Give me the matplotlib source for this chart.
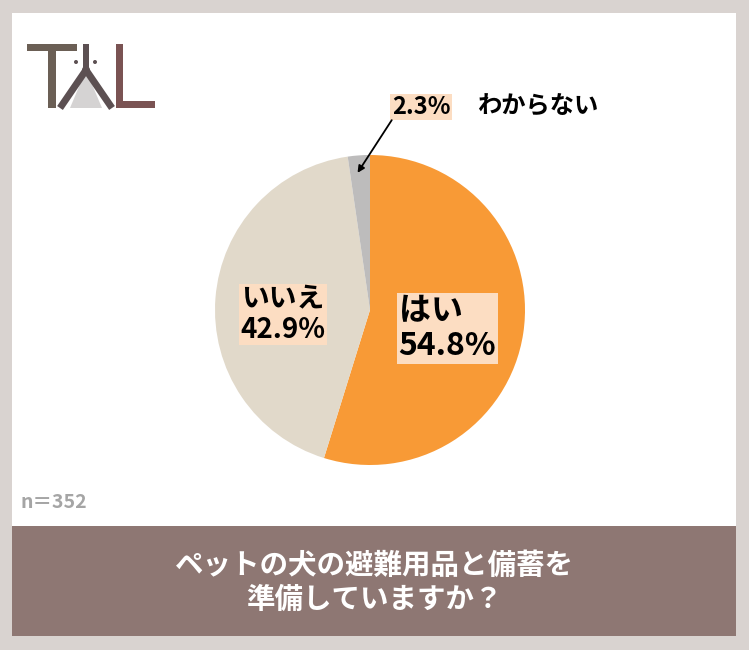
import matplotlib.pyplot as plt
from matplotlib.patches import Rectangle, Polygon, Circle

plt.rcParams['font.family'] = ['Noto Sans CJK JP', 'DejaVu Sans']

# data
answers = ["はい", "いいえ", "わからない"]
shares = [54.8, 42.9, 2.3]
slice_colors = ["#F89A36", "#E1D9CA", "#BDBCBC"]
sample_note = "n＝352"
question = "ペットの犬の避難用品と備蓄を\n準備していますか？"

W, H = 749, 650
fig = plt.figure(figsize=(W / 100, H / 100), dpi=100)
fig.patch.set_facecolor("#D9D3D0")

# pixel-coordinate overlay for frame, banner and logo
bg = fig.add_axes([0, 0, 1, 1])
bg.set_xlim(0, W)
bg.set_ylim(H, 0)
bg.axis("off")
bg.add_patch(Rectangle((12, 13), 724, 513, facecolor="white", edgecolor="none"))
bg.add_patch(Rectangle((12, 526), 724, 110, facecolor="#8E7773", edgecolor="none"))
bg.text(374, 583, question, ha="center", va="center", color="white",
        fontsize=20.5, fontweight="bold", linespacing=1.25)
bg.text(20, 503, sample_note, ha="left", va="center", color="#A5A5A5",
        fontsize=14, fontweight="bold")

# logo "TAL"
bg.add_patch(Rectangle((27, 44), 50, 7, facecolor="#6B5F55"))
bg.add_patch(Rectangle((48, 44), 8, 64, facecolor="#6B5F55"))
bg.add_patch(Polygon([(86, 70), (70, 108), (102, 108)], facecolor="#D5D3D3"))
bg.plot([60, 86, 112], [108, 70, 108], color="#5C5052", lw=5, solid_capstyle="butt")
bg.add_patch(Rectangle((83, 44), 6, 28, facecolor="#5C5052"))
bg.add_patch(Circle((86, 70), 4, facecolor="#5C5052"))
bg.add_patch(Circle((76, 62), 2, facecolor="#5C5052"))
bg.add_patch(Circle((95, 62), 2, facecolor="#5C5052"))
bg.add_patch(Rectangle((116, 44), 7, 64, facecolor="#7A5353"))
bg.add_patch(Rectangle((116, 101), 39, 7, facecolor="#7A5353"))

# pie
cx, cy, r = 370, 310, 155
ax = fig.add_axes([(cx - r) / W, (H - cy - r) / H, 2 * r / W, 2 * r / H])
ax.pie(shares, colors=slice_colors, startangle=90, counterclock=False,
       wedgeprops=dict(linewidth=0))
ax.set_aspect("equal")
ax.set_xlim(-1, 1)
ax.set_ylim(-1, 1)

box = dict(boxstyle="square,pad=0.06", facecolor="#FCDDC2", edgecolor="none")
ax.text(0.50, -0.12, f"{answers[0]}\n{shares[0]}%", ha="center", va="center",
        fontsize=23, fontweight="bold", bbox=box, linespacing=1.1, multialignment="left")
ax.text(-0.56, -0.03, f"{answers[1]}\n{shares[1]}%", ha="center", va="center",
        fontsize=20, fontweight="bold", bbox=box, linespacing=1.1, multialignment="left")
ax.text(0.33, 1.31, f"{shares[2]}%", ha="center", va="center",
        fontsize=17, fontweight="bold", bbox=box, clip_on=False)
ax.text(1.08, 1.31, answers[2], ha="center", va="center",
        fontsize=17.5, fontweight="bold", clip_on=False)
ax.annotate("", xy=(-0.09, 0.87), xytext=(0.15, 1.24),
            arrowprops=dict(arrowstyle="-|>", color="black", lw=1.3), annotation_clip=False)

fig.savefig("out.png", dpi=100, facecolor=fig.get_facecolor())
